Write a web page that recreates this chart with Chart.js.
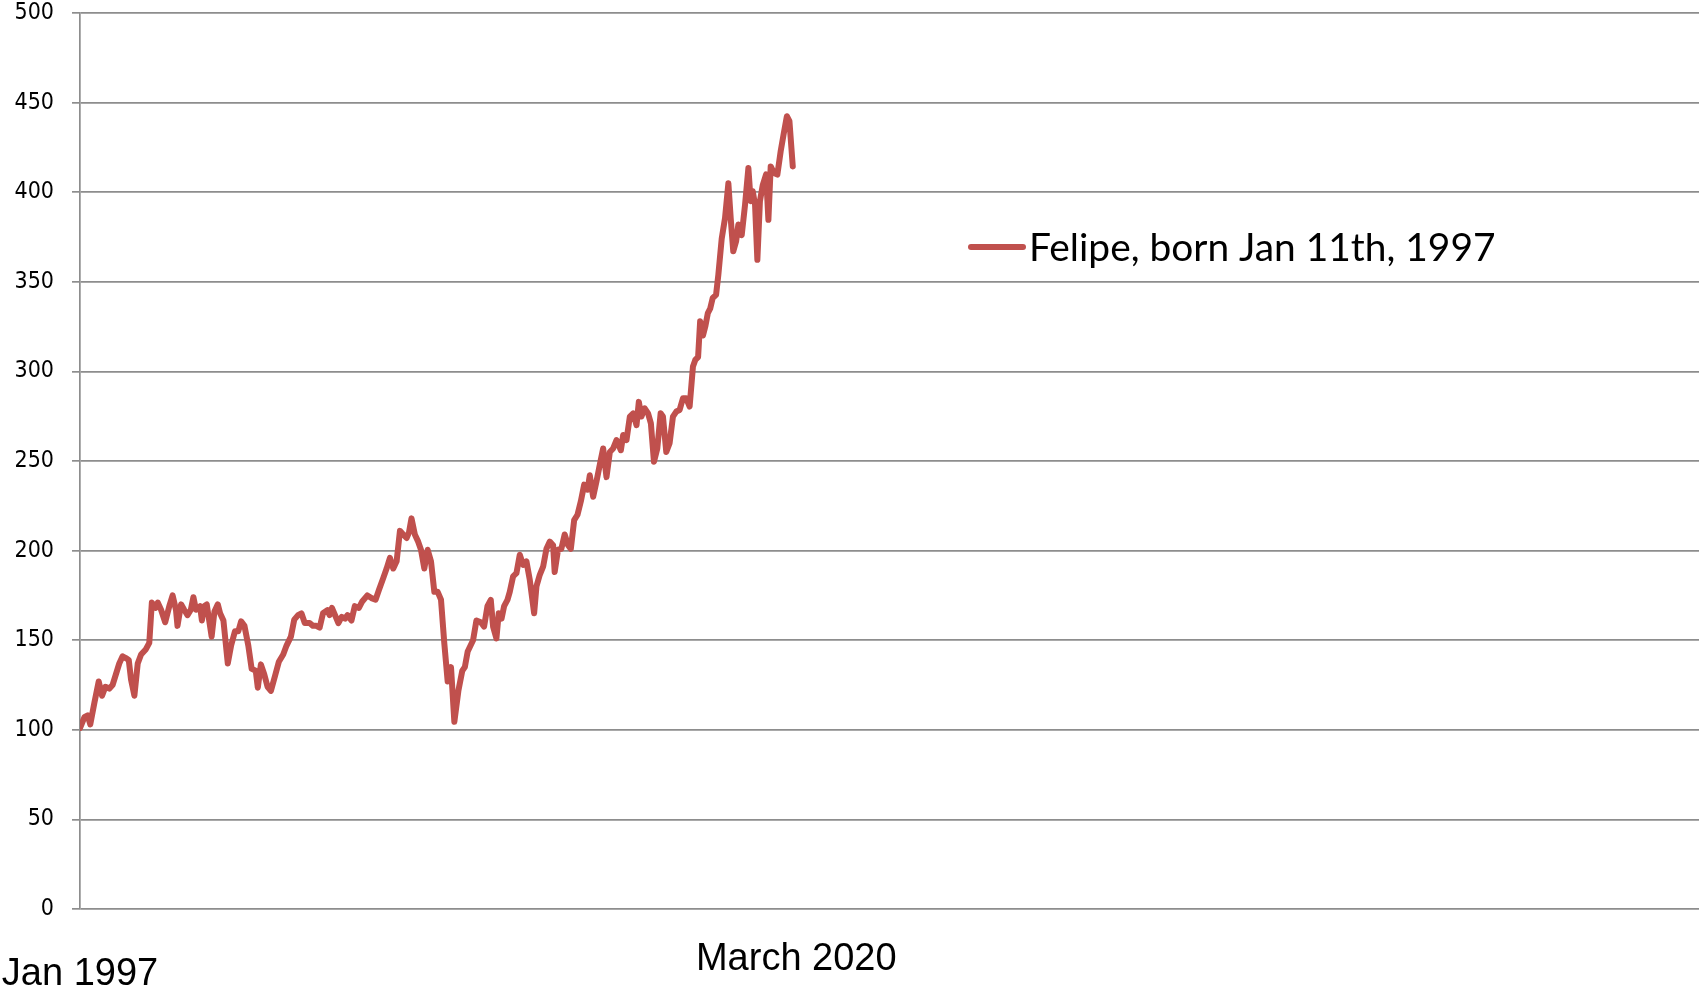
<!DOCTYPE html>
<html>
<head>
<meta charset="utf-8">
<title>Felipe</title>
<script src="https://cdn.jsdelivr.net/npm/chart.js@4/dist/chart.umd.min.js"></script>
<style>
  html, body { margin: 0; padding: 0; background: #fff; }
  #wrap { position: relative; width: 1699px; height: 987px; }
</style>
</head>
<body>
<div id="wrap"><canvas id="lifeChart"></canvas></div>
<script>
// months since Jan 1997 (x) and the value read at that point (y)
const months = [
  0, 1.7, 3, 4, 5.6, 7.3, 8.6, 9.9, 11.4, 12.7, 14, 15.3, 16.6, 17.9, 19, 19.9, 21.2, 22.5, 23.8, 25.7,
  27, 28, 29.4, 30.3, 31.6, 33.2, 34.8, 36.1, 37.4, 38, 39.4, 40.6, 41.9, 43.2, 44.2, 45.2, 46.8, 47.5, 48.4,
  49.4, 51.3, 52.4, 53.7, 54.6, 55.9, 57.6, 58.9, 60.4, 61.7, 62.8, 64.1, 65.6, 66.9, 68.5, 69.3, 70.5, 71.8,
  73.1, 74.4, 76, 77.5, 79.2, 80.5, 82.2, 83.5, 85, 86.3, 87.6, 89.5, 90.8, 92.1, 93.4, 94.7, 96.4, 97.3, 98.2,
  99.4, 100.7, 102, 103.3, 104.3, 105.8, 107.1, 108.7, 110, 112, 113.6, 115.2, 116.5, 118.2, 119.5, 120.8,
  122.1, 123.4, 124.7, 126, 127.3, 128.2, 129.2, 130.5, 131.8, 132.9, 134.2, 135.5, 136.8, 138.1, 139.4,
  140.7, 142, 143.3, 144.6, 145.9, 147.5, 149, 150, 151.1,
  153.2, 154.5, 156.2, 157.5, 158.8, 160.1, 161, 162.3, 163.2, 164.3, 165.3, 166.6, 167.5, 168.8, 170.1,
  171.4, 172.7, 174, 175.3, 177, 177.9, 179.2, 180.5, 181.8, 183.1, 184.4, 185, 186.3, 187.6, 188.9, 190.2,
  191.3, 192.6, 193.9, 195.2, 196.5, 197.8, 198.7, 200, 201.3,
  202.6, 203.9, 205.2, 206.5, 207.8, 209.1, 210.8, 211.7, 213, 214.3, 215.6, 216.9, 217.8, 218.8, 220.1,
  221.4, 222.5, 223.7, 225, 226.3, 227.2, 228.5, 229.8, 231.1, 232.4, 233.7, 235, 236.3, 237.6, 238.9,
  239.8, 240.9, 241.7, 242.8, 243.7, 244.7,
  245.6, 246.6, 247.9, 248.8, 250.1, 251.4, 252.7, 253.6, 254.6, 255.7, 256.6, 257.9, 259.2, 260.5, 261.4,
  262.2, 263.1, 264, 265, 266.1, 267.4, 268.3, 269.2, 270.5, 271.8, 273.1, 274.2, 275.5, 276.5, 277.8
];
const values = [
  101, 107, 108, 103, 115, 127, 119, 124, 123, 125, 131, 137, 141, 140, 139, 128, 119, 137, 142, 145,
  148.5, 171, 168, 171, 167, 160, 169, 175, 167, 158, 170, 167, 164, 167, 174, 167, 169, 161, 169,
  170, 152, 166, 170, 165, 161, 137, 147, 155, 155, 160.5, 158, 147, 134, 133, 123.5, 136.5, 131,
  124, 121.7, 130, 138, 142, 147, 152, 161.5, 164, 165, 159.6, 159.6, 158, 158, 157, 165, 166.7, 164, 168,
  164, 159.5, 163, 162, 164, 161, 169, 168, 171.6, 175, 173.5, 172.6, 178, 184.7, 190, 196,
  190, 194, 211, 209, 207, 210, 218, 209, 205, 200.5, 190, 200.5, 194, 177, 177,
  172.6, 148, 127, 135, 104.5, 122, 133, 135, 143.7,
  150, 161, 160, 157.6, 169, 172.5, 157.6, 151, 165, 162, 169, 172.5, 177, 185.6, 187.4,
  197.7, 192, 194, 183.7, 165, 180, 186.5, 191, 201, 205, 203, 188, 200.5, 201, 209, 203,
  201, 217, 220, 227.5, 236.8, 234, 242, 230, 238.6,
  248, 257, 241, 255, 257, 261.7, 256, 264.5, 261.7, 274.8, 276.6, 270, 283, 274.8, 279.4,
  276.6, 271, 249.6, 257, 276.6, 274.8, 255, 260, 274.8, 277.6, 278.5, 285, 285, 280.4, 302.7,
  306.4, 308, 328, 320, 325, 332.5,
  335, 341, 342.7, 354, 374, 385.6, 405, 385.6, 367, 372.5, 382, 376, 393, 413.5, 395,
  400.5, 393, 362.3, 395, 404, 410, 384.6, 414.4, 410.7, 409.8, 423, 432, 442.4, 439.6, 414.4
];
const seriesName = 'Felipe, born Jan 11th, 1997';
const xTickLabels = ['Jan 1997', 'March 2020'];
const xTickMonths = [0, 278];
const xMaxMonth = 631;
const yMin = 0, yMax = 500, yStep = 50;

const lineColor = '#c0504d';
const gridColor = '#8d8d8d';

// bottom labels + legend drawn on the canvas
const extrasPlugin = {
  id: 'extras',
  afterDraw(chart) {
    const ctx = chart.ctx;
    const xs = chart.scales.x;
    const baselines = [985, 970];
    ctx.save();
    ctx.fillStyle = '#000';
    ctx.font = '38px "Liberation Sans", Arial, sans-serif';
    ctx.textAlign = 'center';
    ctx.textBaseline = 'alphabetic';
    xTickLabels.forEach((t, i) => {
      ctx.fillText(t, xs.getPixelForValue(xTickMonths[i]) + (i ? 3 : 0), baselines[i]);
    });

    // legend
    const ly = 247;
    ctx.strokeStyle = lineColor;
    ctx.lineWidth = 6;
    ctx.lineCap = 'round';
    ctx.beginPath();
    ctx.moveTo(971, ly);
    ctx.lineTo(1023, ly);
    ctx.stroke();

    ctx.font = '40px Lato, "Open Sans", sans-serif';
    const w = ctx.measureText(seriesName).width;
    const size = 40 * 467 / w;
    ctx.font = size.toFixed(1) + 'px Lato, "Open Sans", sans-serif';
    ctx.textAlign = 'left';
    ctx.textBaseline = 'middle';
    ctx.fillText(seriesName, 1029, ly + 1);
    ctx.restore();
  }
};

const ctx = document.getElementById('lifeChart').getContext('2d');
new Chart(ctx, {
  type: 'line',
  data: {
    datasets: [{
      label: seriesName,
      data: months.map((m, i) => ({ x: m, y: values[i] })),
      borderColor: lineColor,
      backgroundColor: lineColor,
      borderWidth: 6,
      borderJoinStyle: 'round',
      borderCapStyle: 'round',
      pointRadius: 0,
      tension: 0,
      fill: false
    }]
  },
  options: {
    responsive: true,
    maintainAspectRatio: false,
    animation: false,
    layout: {
      padding: { top: 13, right: 0, bottom: 78, left: 0 }
    },
    scales: {
      x: {
        type: 'linear',
        min: 0,
        max: xMaxMonth,
        display: false
      },
      y: {
        min: yMin,
        max: yMax,
        afterFit: (scale) => {
          scale.width = 80;
          scale.paddingTop = 0;
          scale.paddingBottom = 0;
        },
        ticks: {
          stepSize: yStep,
          color: '#000',
          padding: 18,
          font: { family: '"DejaVu Sans Condensed", "DejaVu Sans", Verdana, sans-serif', size: 23 }
        },
        grid: {
          color: gridColor,
          lineWidth: 1.7,
          tickLength: 8,
          tickColor: gridColor
        },
        border: {
          color: gridColor,
          width: 1.7
        }
      }
    },
    plugins: {
      legend: { display: false },
      tooltip: { enabled: false }
    }
  },
  plugins: [extrasPlugin]
});
</script>
</body>
</html>
